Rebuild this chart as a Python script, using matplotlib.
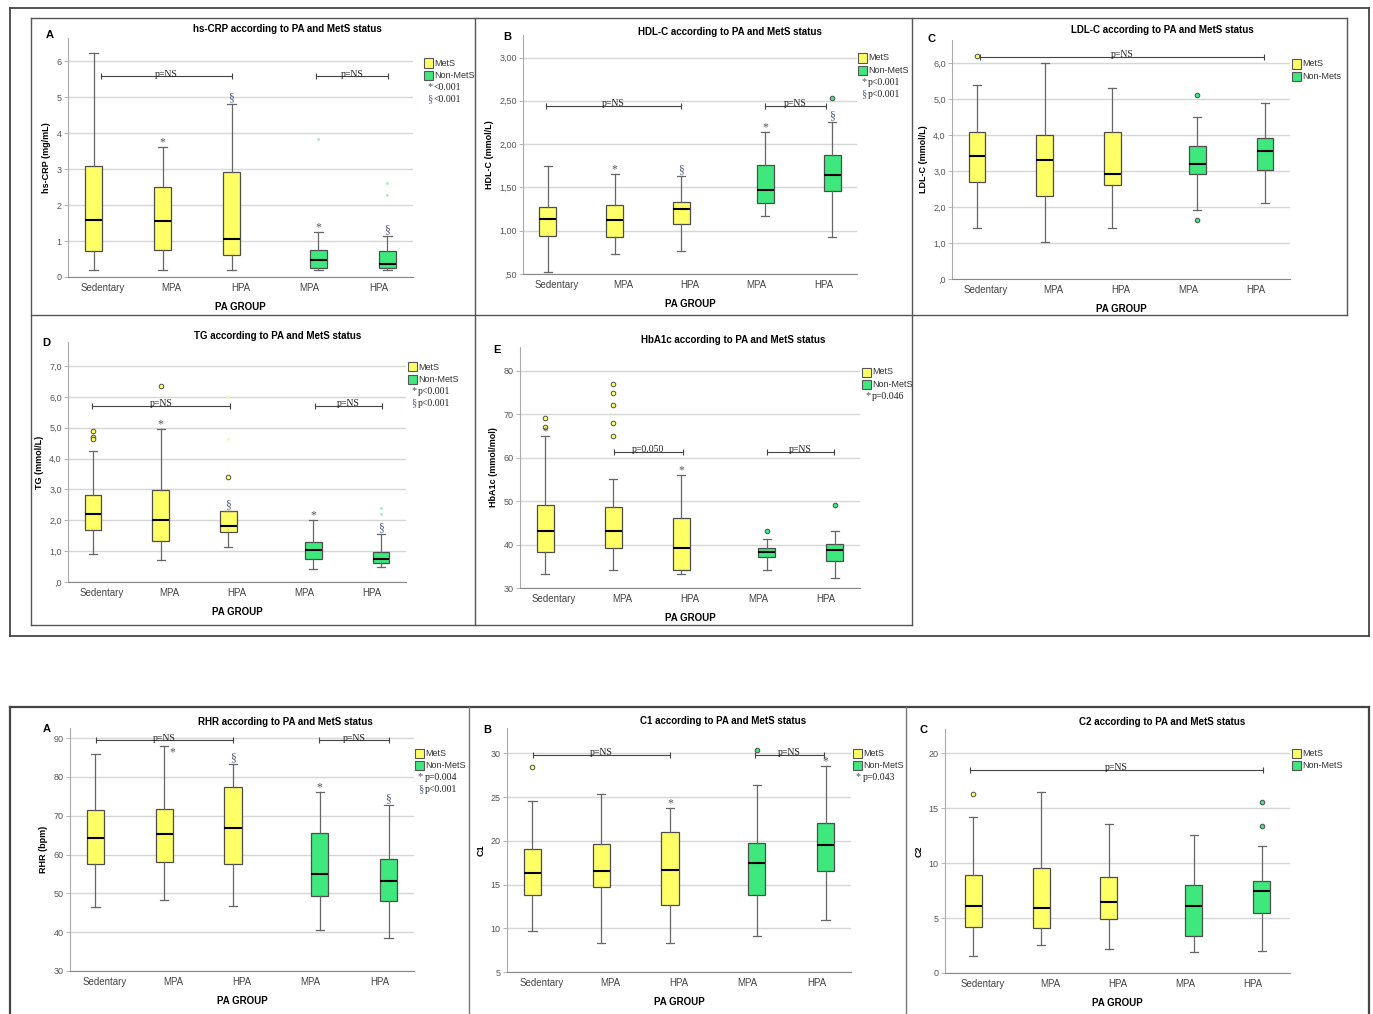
import matplotlib.pyplot as plt
from matplotlib.lines import Line2D
from matplotlib.patches import Rectangle

W, H = 1373, 1014
SANS = 'Liberation Sans'
SERIF = 'Liberation Serif'
YEL = '#ffff66'
GRN = '#3ee87c'

groups = ['Sedentary', 'MPA', 'HPA', 'MPA', 'HPA']

# box summaries: [whisker low, q1, median, q3, whisker high]
crp_mets = [[0.19, 0.71, 1.59, 3.09, 6.24], [0.19, 0.76, 1.56, 2.50, 3.63], [0.19, 0.62, 1.07, 2.93, 4.81]]
crp_non = [[0.19, 0.26, 0.48, 0.75, 1.25], [0.19, 0.26, 0.37, 0.73, 1.14]]
crp_out = [[], [], [], [], []]
crp_faint = [[], [], [], [3.83], [2.62, 2.27]]

hdl_mets = [[0.52, 0.94, 1.14, 1.27, 1.75], [0.73, 0.93, 1.12, 1.30, 1.65], [0.77, 1.08, 1.25, 1.33, 1.63]]
hdl_non = [[1.17, 1.32, 1.47, 1.76, 2.14], [0.93, 1.46, 1.64, 1.87, 2.25]]
hdl_out = [[], [], [], [], [2.53]]

ldl_mets = [[1.42, 2.71, 3.41, 4.10, 5.39], [1.02, 2.32, 3.31, 4.00, 6.00], [1.42, 2.62, 2.91, 4.10, 5.31]]
ldl_non = [[1.92, 2.91, 3.21, 3.70, 4.51], [2.11, 3.02, 3.56, 3.91, 4.90]]
ldl_out = [[6.2], [], [], [5.11, 1.63], []]

tg_mets = [[0.92, 1.68, 2.20, 2.82, 4.25], [0.71, 1.34, 2.02, 2.97, 4.97], [1.14, 1.63, 1.83, 2.29, 2.29]]
tg_non = [[0.43, 0.74, 1.04, 1.30, 2.01], [0.48, 0.63, 0.76, 0.98, 1.54]]
tg_out = [[4.90, 4.70, 4.62], [6.35], [3.41], [], []]
tg_faint = [[], [], [4.62, 6.0], [], [2.40, 2.22]]

hba_mets = [[33.2, 38.2, 43.1, 49.1, 65.0], [34.2, 39.2, 43.1, 48.7, 55.2], [33.2, 34.2, 39.2, 46.2, 56.1]]
hba_non = [[34.2, 37.2, 38.2, 39.2, 41.2], [32.2, 36.2, 38.7, 40.2, 43.1]]
hba_out = [[69.1, 67.1], [77.0, 75.0, 72.1, 68.1, 65.1], [], [43.1], [49.1]]

rhr_mets = [[46.4, 57.5, 64.3, 71.6, 85.9], [48.3, 58.1, 65.4, 71.7, 87.9], [46.8, 57.6, 66.8, 77.4, 83.2]]
rhr_non = [[40.5, 49.3, 55.1, 65.5, 76.1], [38.6, 48.0, 53.1, 58.9, 72.7]]
rhr_out = [[], [], [], [], []]

c1_mets = [[9.7, 13.8, 16.3, 19.1, 24.5], [8.3, 14.7, 16.6, 19.65, 25.4], [8.35, 12.7, 16.7, 21.0, 23.8]]
c1_non = [[9.1, 13.8, 17.45, 19.7, 26.35], [11.0, 16.5, 19.5, 22.0, 28.6]]
c1_out = [[28.4], [], [], [30.4], []]

c2_mets = [[1.52, 4.18, 6.09, 8.94, 14.15], [2.58, 4.09, 5.91, 9.55, 16.5], [2.18, 4.91, 6.45, 8.70, 13.6]]
c2_non = [[1.91, 3.39, 6.12, 7.97, 12.6], [1.97, 5.45, 7.48, 8.39, 11.6]]
c2_out = [[16.3], [], [], [], [15.6, 13.4]]

comma1 = [',0', '1,0', '2,0', '3,0', '4,0', '5,0', '6,0', '7,0']
hdl_labels = [',50', '1,00', '1,50', '2,00', '2,50', '3,00']

fig = plt.figure(figsize=(W / 100, H / 100), dpi=100)


def fx(x):
    return x / W


def fy(y):
    return 1 - y / H


def line(x0, y0, x1, y1, lw=1.0, c='#555555'):
    fig.add_artist(Line2D([fx(x0), fx(x1)], [fy(y0), fy(y1)], color=c, lw=lw))


def legend(lx, ly, entries):
    for k, (kind, txt) in enumerate(entries):
        y = ly + k * 12.3
        if kind in ('mets', 'non'):
            fig.add_artist(Rectangle((fx(lx), fy(y + 4.5)), 9 / W, 9 / H, transform=fig.transFigure,
                                     facecolor=YEL if kind == 'mets' else GRN, edgecolor='#555555', lw=0.8))
            fig.text(fx(lx + 10), fy(y), txt, fontsize=6.5, family=SANS, color='#333333', va='center')
        else:
            c = '#555555' if kind == '*' else '#4e6080'
            fig.text(fx(lx + 3), fy(y - 1), kind, fontsize=7.5, family=SERIF, color=c, va='center')
            fig.text(fx(lx + 10), fy(y), txt, fontsize=7, family=SERIF, color='#222222', va='center')


def panel(rect, mets, non, out, ylim, yticks, ylabels, ylab, title, tpos, letter, lpos,
          leg, legpos, brackets, marks=(), faint=None, xlim=(-0.5, 4.5)):
    x0, y0, x1, y1 = rect
    ax = fig.add_axes([fx(x0), fy(y1), (x1 - x0) / W, (y1 - y0) / H])
    boxes = mets + non
    pos = [i - 0.13 for i in range(3)] + [i + 0.13 for i in range(3, 5)]
    stats = [dict(whislo=b[0], q1=b[1], med=b[2], q3=b[3], whishi=b[4], fliers=[]) for b in boxes]
    res = ax.bxp(stats, positions=pos, widths=0.25, capwidths=0.12, patch_artist=True, showfliers=False,
                 boxprops=dict(edgecolor='#4d4d4d', lw=0.9),
                 whiskerprops=dict(color='#666666', lw=0.9),
                 capprops=dict(color='#666666', lw=0.9),
                 medianprops=dict(color='black', lw=1.5), zorder=3)
    for i, p in enumerate(res['boxes']):
        p.set_facecolor(YEL if i < 3 else GRN)
    for i, vals in enumerate(out):
        if vals:
            ax.plot([pos[i]] * len(vals), vals, 'o', ms=3.3, mfc=YEL if i < 3 else GRN,
                    mec='#4d4d4d', mew=0.7, zorder=4)
    if faint:
        for i, vals in enumerate(faint):
            if vals:
                ax.plot([pos[i]] * len(vals), vals, '.', ms=2.2, color='#f5f5b0' if i < 3 else '#a8f0c4',
                        zorder=4)
    for i, sym, dx, dy in marks:
        c = '#555555' if sym == '*' else '#4e6080'
        ax.annotate(sym, (pos[i], boxes[i][4]), xytext=(dx, dy), textcoords='offset points',
                    ha='center', va='bottom', fontsize=8.5,
                    family=SERIF, color=c, zorder=5)
    for bx0, bx1, by, txt in brackets:
        ax.plot([bx0, bx1], [by, by], color='#444444', lw=0.8, zorder=5)
        ax.plot([bx0, bx1], [by, by], ls='none', marker='|', ms=4, mew=0.8, color='#444444', zorder=5)
        ax.annotate(txt, ((bx0 + bx1) / 2, by), xytext=(0, -1.5), textcoords='offset points',
                    ha='center', va='bottom', fontsize=7, family=SERIF, color='#222222', zorder=5)
    ax.set_xlim(*xlim)
    ax.set_ylim(*ylim)
    ax.set_xticks(range(5))
    ax.set_xticklabels(groups, fontsize=7, family=SANS, color='#444444')
    ax.set_yticks(yticks)
    ax.set_yticklabels(ylabels, fontsize=6.5, family=SANS, color='#555555')
    ax.tick_params(axis='x', length=0, pad=4)
    ax.tick_params(axis='y', length=3, width=0.6, color='#aaaaaa', pad=1.5)
    ax.yaxis.grid(True, color='#d6d6d6', lw=1.0)
    ax.set_axisbelow(True)
    for s in ('top', 'right'):
        ax.spines[s].set_visible(False)
    ax.spines['left'].set_color('#aaaaaa')
    ax.spines['bottom'].set_color('#888888')
    ax.set_ylabel(ylab, fontsize=6.5, family=SANS, fontweight='bold', labelpad=4)
    ax.set_xlabel('PA GROUP', fontsize=7, family=SANS, fontweight='bold', labelpad=7)
    fig.text(fx(tpos[0]), fy(tpos[1]), title, fontsize=7, family=SANS, fontweight='bold',
             ha='center', va='center')
    fig.text(fx(lpos[0]), fy(lpos[1]), letter, fontsize=8, family=SANS, fontweight='bold',
             ha='center', va='center')
    legend(legpos[0], legpos[1], leg)
    return ax


L4 = lambda a, b: [('mets', 'MetS'), ('non', 'Non-MetS'), ('*', a), ('§', b)]
M4 = [(1, '*', 0, -1), (2, '§', 0, 0), (3, '*', 0, -1), (4, '§', 0, 0)]

panel((68, 38, 413, 277), crp_mets, crp_non, crp_out, (0, 6.65), range(7), [str(i) for i in range(7)],
      'hs-CRP (mg/mL)', 'hs-CRP according to PA and MetS status', (287, 29), 'A', (50, 35),
      L4('<0.001', '<0.001'), (424, 63),
      [(-0.02, 1.87, 5.58, 'p=NS'), (3.09, 4.14, 5.58, 'p=NS')],
      marks=M4, faint=crp_faint)

panel((523, 35, 857, 274), hdl_mets, hdl_non, hdl_out, (0.5, 3.26), [0.5, 1, 1.5, 2, 2.5, 3], hdl_labels,
      'HDL-C (mmol/L)', 'HDL-C according to PA and MetS status', (730, 32), 'B', (507, 37),
      L4('p<0.001', 'p<0.001'), (858, 58),
      [(-0.15, 1.86, 2.44, 'p=NS'), (3.12, 4.04, 2.44, 'p=NS')],
      marks=M4)

panel((952, 40, 1290, 279), ldl_mets, ldl_non, ldl_out, (0, 6.65), range(7), comma1[:7],
      'LDL-C (mmol/L)', 'LDL-C according to PA and MetS status', (1162, 30), 'C', (931, 39),
      [('mets', 'MetS'), ('non', 'Non-Mets')], (1292, 64),
      [(-0.08, 4.11, 6.19, 'p=NS')])

panel((68, 342, 406, 582), tg_mets, tg_non, tg_out, (0, 7.78), range(8), comma1,
      'TG (mmol/L)', 'TG according to PA and MetS status', (278, 336), 'D', (46, 343),
      L4('p<0.001', 'p<0.001'), (408, 367),
      [(-0.14, 1.9, 5.71, 'p=NS'), (3.15, 4.15, 5.71, 'p=NS')],
      marks=M4, faint=tg_faint)

panel((520, 347, 860, 588), hba_mets, hba_non, hba_out, (30, 85.5), range(30, 81, 10),
      [str(v) for v in range(30, 81, 10)],
      'HbA1c (mmol/mol)', 'HbA1c according to PA and MetS status', (733, 340), 'E', (497, 350),
      [('mets', 'MetS'), ('non', 'Non-MetS'), ('*', 'p=0.046')], (862, 372),
      [(0.88, 1.89, 61.4, 'p=0.050'), (3.13, 4.12, 61.4, 'p=NS')],
      marks=[(0, '*', 0, -1), (2, '*', 0, -1)])

panel((70, 728, 414, 971), rhr_mets, rhr_non, rhr_out, (30, 92.6), range(30, 91, 10),
      [str(v) for v in range(30, 91, 10)],
      'RHR (bpm)', 'RHR according to PA and MetS status', (285, 722), 'A', (47, 729),
      L4('p=0.004', 'p<0.001'), (415, 753),
      [(-0.12, 1.87, 89.4, 'p=NS'), (3.12, 4.13, 89.4, 'p=NS')],
      marks=[(1, '*', 6, -9), (2, '§', 0, 0), (3, '*', 0, -1), (4, '§', 0, 0)])

panel((507, 728, 851, 972), c1_mets, c1_non, c1_out, (5, 32.9), range(5, 31, 5),
      [str(v) for v in range(5, 31, 5)],
      'C1', 'C1 according to PA and MetS status', (723, 721), 'B', (487, 730),
      [('mets', 'MetS'), ('non', 'Non-MetS'), ('*', 'p=0.043')], (853, 753),
      [(-0.12, 1.87, 29.8, 'p=NS'), (3.1, 4.11, 29.8, 'p=NS')],
      marks=[(2, '*', 0, -1), (4, '*', 0, -1)])

panel((945, 729, 1290, 973), c2_mets, c2_non, c2_out, (0, 22.2), range(0, 21, 5),
      [str(v) for v in range(0, 21, 5)],
      'C2', 'C2 according to PA and MetS status', (1162, 722), 'C', (924, 730),
      [('mets', 'MetS'), ('non', 'Non-MetS')], (1292, 753),
      [(-0.18, 4.15, 18.45, 'p=NS')], xlim=(-0.55, 4.55))

# frames around the two figure groups
for (a, b, c, d) in [(10, 8, 1369, 8), (10, 636, 1369, 636), (10, 8, 10, 636), (1369, 8, 1369, 636)]:
    line(a, b, c, d, lw=1.3, c='#444444')
for (a, b, c, d) in [(31, 18, 1347, 18), (31, 18, 31, 625), (31, 625, 912, 625), (1347, 18, 1347, 315),
                     (31, 315, 1347, 315), (475, 18, 475, 625), (912, 18, 912, 625)]:
    line(a, b, c, d, lw=1.0)
for (a, b, c, d) in [(10, 707, 1369, 707), (10, 707, 10, 1014), (1369, 707, 1369, 1014)]:
    line(a, b, c, d, lw=1.6, c='#444444')
for x in (469, 906):
    line(x, 707, x, 1014, lw=1.0, c='#777777')

fig.savefig('out.png', dpi=100)
